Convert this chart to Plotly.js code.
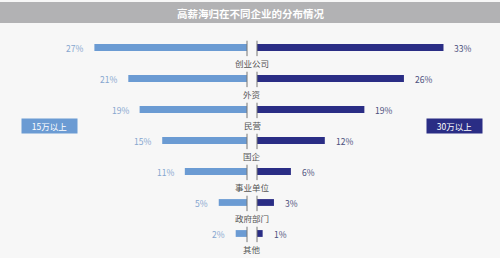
<!DOCTYPE html>
<html>
<head>
<meta charset="utf-8">
<script src="https://cdn.plot.ly/plotly-3.0.1.min.js"></script>
<style>
html,body{margin:0;padding:0;background:#f7f7f7;}
#chart{width:500px;height:258px;}
</style>
</head>
<body>
<div id="chart"></div>
<script>
const categories = ['创业公司','外资','民营','国企','事业单位','政府部门','其他'];
const above15 = [27, 21, 19, 15, 11, 5, 2];
const above30 = [33, 26, 19, 12, 6, 3, 1];
const seriesNames = ['15万以上', '30万以上'];
const titleText = '高薪海归在不同企业的分布情况';

const leftColor = '#6b9bd3';
const rightColor = '#2a2d85';
const font = '"Noto Sans CJK SC", "Noto Sans", sans-serif';

const yIdx = categories.map((c, i) => i);
const zeros = categories.map(() => 0);

const traces = [
  {type:'bar', orientation:'h', x: above15, y: yIdx, xaxis:'x', yaxis:'y',
   marker:{color:leftColor}, width:0.22, hoverinfo:'skip', name: seriesNames[0]},
  {type:'bar', orientation:'h', x: above30, y: yIdx, xaxis:'x2', yaxis:'y',
   marker:{color:rightColor}, width:0.22, hoverinfo:'skip', name: seriesNames[1]},
  {type:'scatter', mode:'markers', x: zeros, y: yIdx.map(v => v + 0.03), xaxis:'x', yaxis:'y',
   marker:{symbol:'line-ns', size:11, line:{width:1, color:'#777777'}}, cliponaxis:false, hoverinfo:'skip'},
  {type:'scatter', mode:'markers', x: zeros, y: yIdx.map(v => v + 0.03), xaxis:'x2', yaxis:'y',
   marker:{symbol:'line-ns', size:11, line:{width:1, color:'#777777'}}, cliponaxis:false, hoverinfo:'skip'}
];

const annotations = [];
above15.forEach((v, i) => annotations.push({
  xref:'x', yref:'y', x: v, y: i, text: v + '%', showarrow:false,
  xanchor:'right', xshift:-9, font:{family:font, size:8.5, color:'#86a6cf'}
}));
above30.forEach((v, i) => annotations.push({
  xref:'x2', yref:'y', x: v, y: i, text: v + '%', showarrow:false,
  xanchor:'left', xshift:9, font:{family:font, size:8.5, color:'#4b4f7c'}
}));
categories.forEach((c, i) => annotations.push({
  xref:'paper', yref:'y', x: 0.504, y: i, yshift:-15, text: c, showarrow:false,
  xanchor:'center', font:{family:font, size:8.5, color:'#555555'}
}));
annotations.push({
  xref:'paper', yref:'y', x: 0.0995, y: 2.53, xanchor:'center', yanchor:'middle',
  text: seriesNames[0], showarrow:false,
  width:53, height:12, bgcolor:leftColor, font:{family:font, size:8.5, color:'#ffffff'}
});
annotations.push({
  xref:'paper', yref:'y', x: 0.909, y: 2.53, xanchor:'center', yanchor:'middle',
  text: seriesNames[1], showarrow:false,
  width:53, height:12, bgcolor:rightColor, font:{family:font, size:8.5, color:'#ffffff'}
});
annotations.push({
  xref:'paper', yref:'paper', x: 0.5, y: 1, yanchor:'bottom', yshift:9, text: '<b>' + titleText + '</b>',
  showarrow:false, font:{family:font, size:10.5, color:'#ffffff'}
});

const layout = {
  width:500, height:258,
  margin:{l:0, r:0, t:32, b:9},
  paper_bgcolor:'#f7f7f7', plot_bgcolor:'#f7f7f7',
  showlegend:false,
  xaxis:{domain:[0, 0.494], range:[43.7, 0], visible:false, fixedrange:true},
  xaxis2:{domain:[0.514, 1], range:[0, 43.0], visible:false, fixedrange:true},
  yaxis:{range:[6.5, -0.5], visible:false, fixedrange:true},
  shapes:[{type:'rect', xref:'paper', yref:'paper', x0:0, x1:1,
           ysizemode:'pixel', yanchor:1, y0:9, y1:30,
           fillcolor:'#b2b2b4', line:{width:0}, layer:'below'}],
  annotations: annotations
};

Plotly.newPlot('chart', traces, layout, {displayModeBar:false, staticPlot:true});
</script>
</body>
</html>
